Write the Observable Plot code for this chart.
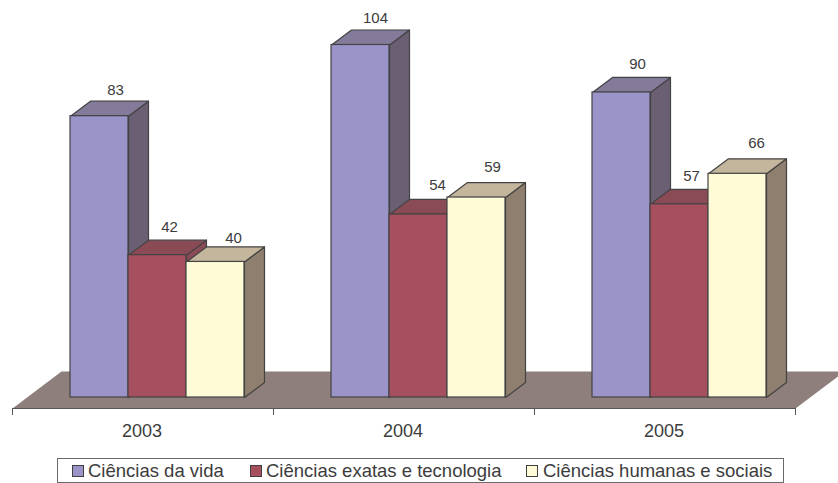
<!DOCTYPE html>
<html><head><meta charset="utf-8">
<script src="https://cdn.jsdelivr.net/npm/d3@7"></script>
<script src="https://cdn.jsdelivr.net/npm/@observablehq/plot@0.6"></script>
<style>
html,body{margin:0;padding:0;background:#fff;width:838px;height:483px;overflow:hidden}
#legend{position:absolute;left:57px;top:458px;width:725px;height:23px;border:1px solid #6a6a6a;font:18.5px "Liberation Sans",Arial,sans-serif;color:#3c3c3c;}
#legend span.k{position:absolute;top:6px;width:10px;height:10px;border:1px solid #404040}
#legend span.t{position:absolute;top:1px;white-space:nowrap}
svg{display:block}
</style></head><body>
<div id="chart"></div><div id="legend"></div>
<script>
const years = ["2003","2004","2005"];
const seriesNames = ["Ciências da vida","Ciências exatas e tecnologia","Ciências humanas e sociais"];
const vida = [83,104,90];
const exatas = [42,54,57];
const humanas = [40,59,66];
const frontColors = ["#9b94c8","#a54f5f","#fffbd6"];
const sideColors = ["#6b5f73","#8a4a56","#8f7f6e"];
const topColors = ["#847a9a","#8a4a56","#c4b69c"];
const floorColor = "#8e7f7c";
const edge = "#434343";
const seriesValues = [vida,exatas,humanas];
// small label nudges, per series then per year
const labelDx = [[16,15,16],[12,19,12],[18,16,19]];
const labelDy = [[-26,-27,-28],[-28,-29,-28],[-24,-30,-31]];

// category layout in bar-width units
const groupWidth = 4.5, leadGap = 1;
const depthX = 20/58, depthY = 15/3.39;
const floorDX = 49/58, floorDY = 37/3.39, floorFront = -11/3.39;

const marks = [];
const poly = (pts, fill) => Plot.line(pts, {x:"x", y:"y", fill, stroke:edge, strokeWidth:1.2, curve:"linear-closed"});

marks.push(Plot.line([
  {x:0,y:floorFront},{x:years.length*groupWidth,y:floorFront},
  {x:years.length*groupWidth+floorDX,y:floorFront+floorDY},{x:floorDX,y:floorFront+floorDY}
],{x:"x",y:"y",fill:floorColor,stroke:"none",curve:"linear-closed"}));

years.forEach((yr,g)=>{
  seriesValues.forEach((vals,s)=>{
    const v = vals[g], x1 = g*groupWidth+leadGap+s, x2 = x1+1;
    marks.push(poly([{x:x2,y:0},{x:x2+depthX,y:depthY},{x:x2+depthX,y:v+depthY},{x:x2,y:v}], sideColors[s]));
    marks.push(poly([{x:x1,y:v},{x:x2,y:v},{x:x2+depthX,y:v+depthY},{x:x1+depthX,y:v+depthY}], topColors[s]));
    marks.push(Plot.rect([{x1,x2,y1:0,y2:v}],{x1:"x1",x2:"x2",y1:"y1",y2:"y2",fill:frontColors[s],stroke:edge,strokeWidth:1.2,inset:0}));
  });
});

years.forEach((yr,g)=>seriesValues.forEach((vals,s)=>{
  marks.push(Plot.text([{x:g*groupWidth+leadGap+s+0.5,y:vals[g],t:String(vals[g])}],
    {x:"x",y:"y",text:"t",dx:labelDx[s][g],dy:labelDy[s][g],fontSize:15,fill:"#3c3c3c"}));
}));

// axis
const tickRows = d3.range(years.length+1).map(i=>({x:i*groupWidth,y1:floorFront,y2:floorFront-7/3.39}));
marks.push(Plot.line([{x:0,y:floorFront},{x:years.length*groupWidth,y:floorFront}],{x:"x",y:"y",stroke:"#555",strokeWidth:1}));
marks.push(Plot.ruleX(tickRows,{x:"x",y1:"y1",y2:"y2",stroke:"#555",strokeWidth:1}));
marks.push(Plot.text(years.map((t,i)=>({t,x:(i+0.5)*groupWidth,y:floorFront})),{x:"x",y:"y",text:"t",dx:-1,dy:23,fontSize:18,fill:"#3c3c3c"}));

const plot = Plot.plot({
  width:838,height:456,
  marginLeft:0,marginRight:0,marginTop:0,marginBottom:0,
  x:{type:"linear",domain:[0,years.length*groupWidth],range:[12,795],axis:null},
  y:{type:"linear",domain:[0,104],range:[397,44.5],axis:null},
  style:{background:"#fff",fontFamily:'"Liberation Sans",Arial,sans-serif',overflow:"visible"},
  marks
});
document.getElementById("chart").append(plot);

const lg = document.getElementById("legend");
const kx=[14,192,468], tx=[30,208,485];
seriesNames.forEach((n,i)=>{
  const k=document.createElement("span");k.className="k";k.style.left=kx[i]+"px";k.style.background=frontColors[i];lg.append(k);
  const t=document.createElement("span");t.className="t";t.style.left=tx[i]+"px";t.textContent=n;lg.append(t);
});
</script></body></html>
